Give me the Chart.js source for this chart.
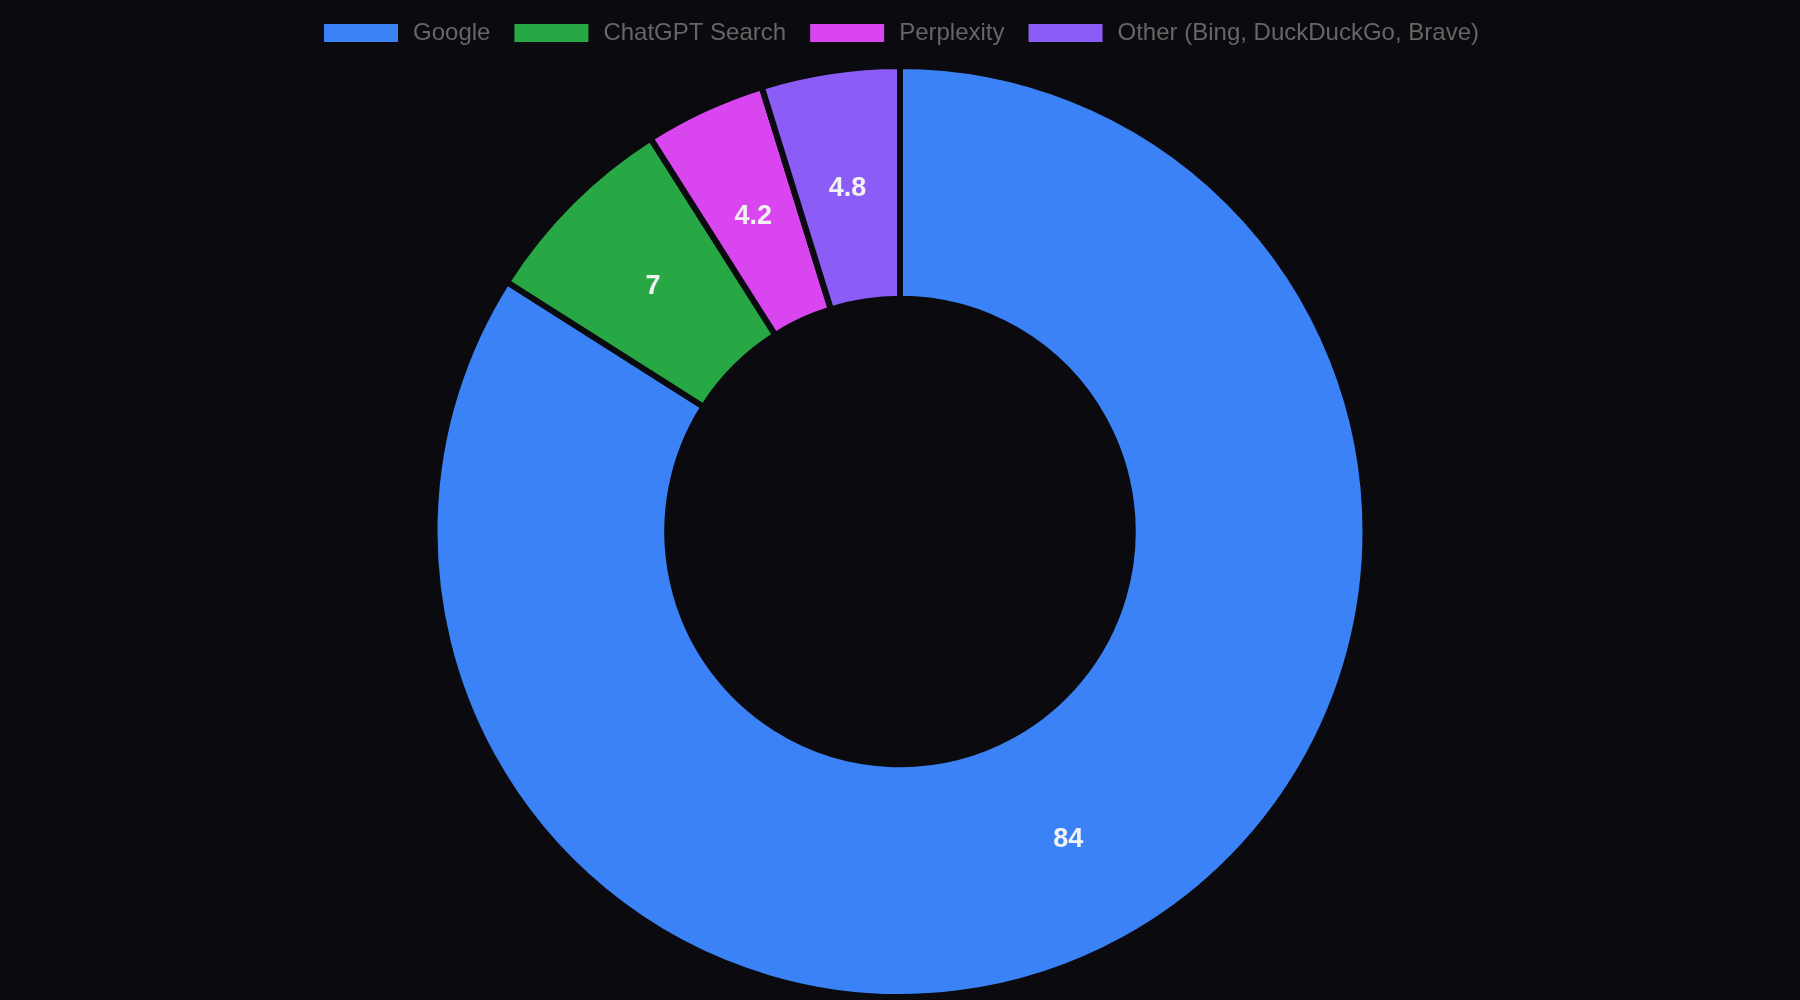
<!DOCTYPE html>
<html>
<head>
<meta charset="utf-8">
<script src="https://cdn.jsdelivr.net/npm/chart.js@4/dist/chart.umd.min.js"></script>
<style>
  html, body { margin: 0; padding: 0; background: #0a0a0f; }
  #wrap { width: 1800px; height: 1000px; }
</style>
</head>
<body>
<div id="wrap"><canvas id="shareChart"></canvas></div>
<script>
// --- Data ---
const labels = ["Google", "ChatGPT Search", "Perplexity", "Other (Bing, DuckDuckGo, Brave)"];
const shares = [84, 7, 4.2, 4.8];
const colors = ["#3b82f6", "#28a745", "#d946ef", "#8b5cf6"];

// --- Value labels drawn in the middle of each slice ---
const sliceLabels = {
    id: "sliceLabels",
    afterDatasetsDraw(chart) {
        const ctx = chart.ctx;
        const meta = chart.getDatasetMeta(0);
        ctx.save();
        ctx.font = "bold 27px 'Liberation Sans', Arial, sans-serif";
        ctx.fillStyle = "#f2f2f2";
        ctx.textAlign = "center";
        ctx.textBaseline = "middle";
        meta.data.forEach((arc, i) => {
            const p = arc.tooltipPosition();
            ctx.fillText(String(shares[i]), p.x, p.y + 2);
        });
        ctx.restore();
    }
};

// --- A bit more room under the legend ---
const legendGap = {
    id: "legendGap",
    beforeInit(chart) {
        const origFit = chart.legend.fit;
        chart.legend.fit = function () {
            origFit.call(this);
            this.height += 8;
        };
    }
};

// --- Chart.js Setup ---
const ctx = document.getElementById("shareChart").getContext("2d");
new Chart(ctx, {
    type: "doughnut",
    data: {
        labels: labels,
        datasets: [{
            data: shares,
            backgroundColor: colors,
            borderColor: "#0a0a0f",
            borderWidth: 6
        }]
    },
    options: {
        responsive: true,
        maintainAspectRatio: false,
        animation: false,
        cutout: "50%",
        plugins: {
            legend: {
                position: "top",
                labels: {
                    color: "#666666",
                    font: { size: 24, family: "'Liberation Sans', Arial, sans-serif" },
                    boxWidth: 80,
                    padding: 21
                }
            },
            tooltip: { enabled: false }
        }
    },
    plugins: [legendGap, sliceLabels]
});
</script>
</body>
</html>
